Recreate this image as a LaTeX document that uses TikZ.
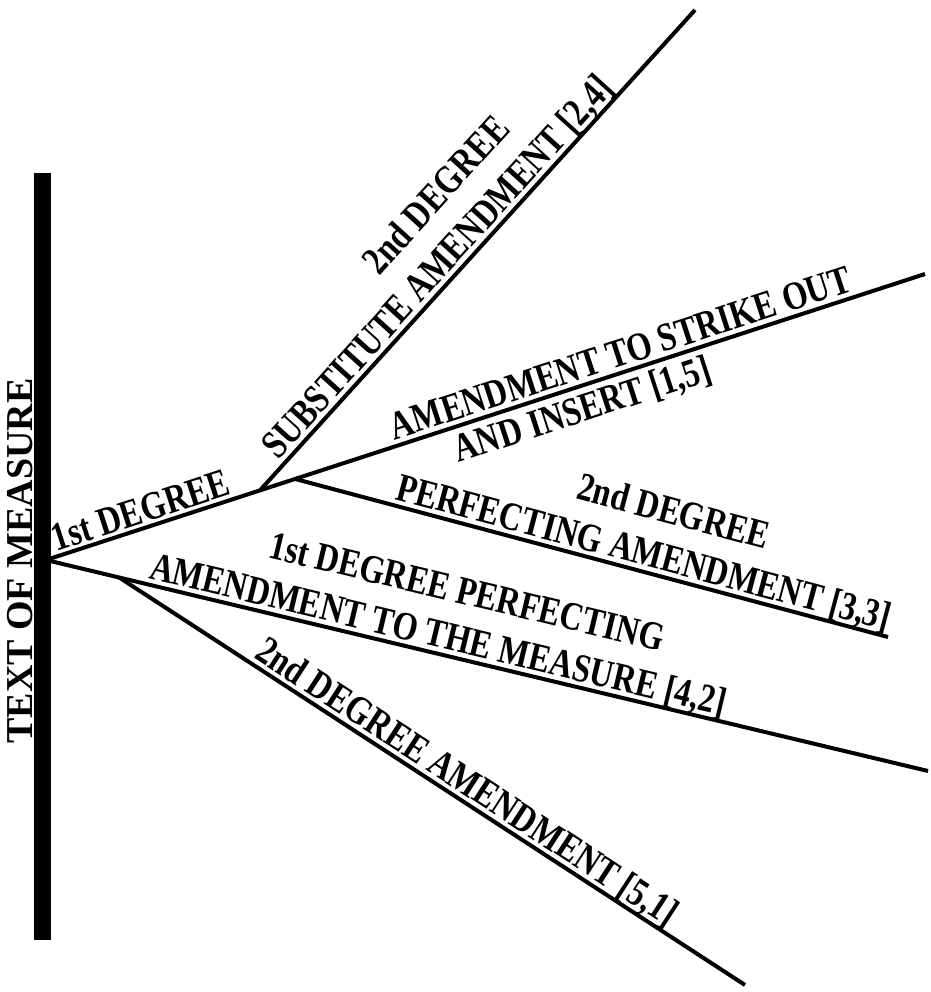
\documentclass[tikz,border=0pt]{standalone}
\usepackage{fontspec}
\newfontfamily\lblfont{Liberation Serif}[FakeStretch=0.81]
\newfontfamily\barfont{Liberation Serif}
\usetikzlibrary{calc}

\tikzset{
  branch/.style={line width=4pt},
  lbl/.style={font=\lblfont\bfseries\fontsize{40}{46}\selectfont, inner sep=0pt, sloped, anchor=base},
}

\begin{document}
\begin{tikzpicture}[x=1pt,y=-1pt]
  \useasboundingbox (0,0) rectangle (930,992);
  % where the branches start and end
  \coordinate (O) at (46,560);
  \coordinate (endStrike) at (925,274);
  \coordinate (endMeasure) at (928,771);
  \coordinate (endSub) at (695,10);
  \coordinate (endPerf) at (888,637);
  \coordinate (endLow) at (745,985);
  \coordinate (jSub) at ($(O)!0.2434!(endStrike)$);
  \coordinate (jPerf) at ($(O)!0.2834!(endStrike)$);
  \coordinate (jLow) at ($(O)!0.0831!(endMeasure)$);
  \coordinate (barTop) at (42,173);
  \coordinate (barBot) at (42,940);

  % 1st degree, upper
  \draw[branch] (O) -- (endStrike)
    node[lbl, pos=0.114, yshift=5pt] (firstDeg) {1st DEGREE}
    node[lbl, pos=0.66, yshift=6pt] (strikeOut) {AMENDMENT TO STRIKE OUT}
    node[lbl, pos=0.602, yshift=-35pt] (andInsert) {AND INSERT [1,5]};
  \draw[branch] (jSub) -- (endSub)
    node[lbl, pos=0.44, yshift=6pt] (subst) {SUBSTITUTE AMENDMENT [2,4]}
    node[lbl, pos=0.52, yshift=55pt] (substDeg) {2nd DEGREE};
  \draw[branch] (jPerf) -- (endPerf)
    node[lbl, pos=0.58, yshift=6pt] (perf) {PERFECTING AMENDMENT [3,3]}
    node[lbl, pos=0.61, yshift=53pt] (perfDeg) {2nd DEGREE};

  % 1st degree, lower
  \draw[branch] (O) -- (endMeasure)
    node[lbl, pos=0.44, yshift=6pt] (measure) {AMENDMENT TO THE MEASURE [4,2]}
    node[lbl, pos=0.46, yshift=54pt] (measureDeg) {1st DEGREE PERFECTING};
  \draw[branch] (jLow) -- (endLow)
    node[lbl, pos=0.54, yshift=6pt] (lowAmend) {2nd DEGREE AMENDMENT [5,1]};

  % the measure itself
  \draw[line width=17pt] (barTop) -- (barBot);
  \node[rotate=90, anchor=base, inner sep=0pt, font=\barfont\bfseries\fontsize{38}{40}\selectfont] (measureTxt) at (32,561) {TEXT OF MEASURE};
\end{tikzpicture}
\end{document}
